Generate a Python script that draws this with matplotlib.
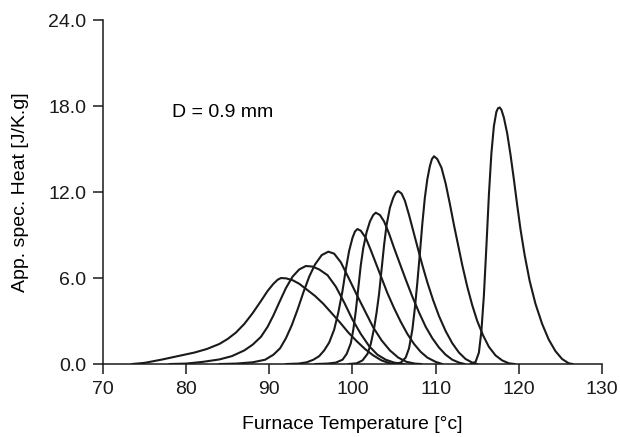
import matplotlib.pyplot as plt

# apparent specific heat curves, one per heating run
t1 = [73.5, 75.0, 77.0, 79.0, 81.0, 82.5, 84.0, 85.0, 86.0, 87.0, 88.0, 89.0, 89.8, 90.5, 91.0, 91.4,
      92.0, 92.8, 93.6, 94.5, 95.5, 96.5, 97.5, 98.5, 99.5, 100.5, 101.5, 102.5, 103.5, 104.5, 105.5]
c1 = [0.0, 0.08, 0.3, 0.55, 0.8, 1.05, 1.4, 1.75, 2.2, 2.8, 3.55, 4.4, 5.1, 5.6, 5.88, 6.0,
      5.98, 5.85, 5.6, 5.2, 4.75, 4.2, 3.55, 2.9, 2.2, 1.6, 1.05, 0.6, 0.25, 0.05, 0.0]

t2 = [78.0, 80.0, 82.0, 84.0, 85.5, 87.0, 88.0, 89.0, 89.8, 90.5, 91.2, 92.0, 92.8, 93.6, 94.4,
      95.2, 96.0, 97.0, 98.0, 99.0, 100.0, 101.0, 102.0, 103.0, 104.0, 105.0, 106.2]
c2 = [0.0, 0.03, 0.15, 0.32, 0.55, 0.95, 1.35, 1.9, 2.6, 3.4, 4.3, 5.3, 6.1, 6.6, 6.84,
      6.8, 6.6, 6.2, 5.4, 4.3, 3.1, 2.1, 1.25, 0.65, 0.3, 0.1, 0.0]

t3 = [84.0, 86.0, 88.0, 89.5, 90.5, 91.3, 92.0, 92.7, 93.4, 94.1, 94.8, 95.5, 96.3, 97.1,
      97.8, 98.6, 99.5, 100.5, 101.5, 102.5, 103.5, 104.5, 105.5, 106.5, 107.5, 108.3]
c3 = [0.0, 0.03, 0.12, 0.3, 0.65, 1.1, 1.8, 2.7, 3.8, 5.0, 6.1, 6.95, 7.6, 7.84,
      7.7, 7.1, 6.05, 4.85, 3.7, 2.55, 1.65, 0.95, 0.45, 0.15, 0.03, 0.0]

t4 = [92.0, 93.5, 94.5, 95.3, 96.0, 96.6, 97.2, 97.8, 98.3, 98.8, 99.2, 99.6, 100.0, 100.3, 100.6,
      101.0, 101.6, 102.2, 102.8, 103.5, 104.2, 105.0, 105.8, 106.6, 107.4, 108.2, 109.0, 110.0, 110.8]
c4 = [0.0, 0.03, 0.12, 0.3, 0.55, 0.95, 1.5, 2.4, 3.6, 5.1, 6.6, 7.9, 8.8, 9.25, 9.42,
      9.3, 8.8, 7.95, 7.05, 6.0, 4.95, 3.9, 2.95, 2.1, 1.4, 0.85, 0.45, 0.15, 0.0]

t5 = [95.5, 97.0, 98.0, 98.8, 99.3, 99.8, 100.1, 100.4, 100.7, 101.0, 101.3, 101.7, 102.1, 102.5, 102.8,
      103.3, 103.8, 104.4, 105.0, 105.7, 106.4, 107.2, 108.0, 108.8, 109.6, 110.4, 111.2, 112.0, 112.8, 113.5]
c5 = [0.0, 0.03, 0.1, 0.3, 0.7, 1.45, 2.4, 3.7, 5.3, 6.9, 8.1, 9.2, 9.95, 10.4, 10.56,
      10.4, 9.95, 9.1, 8.1, 7.0, 5.9, 4.7, 3.6, 2.6, 1.8, 1.15, 0.65, 0.3, 0.1, 0.0]

t6 = [99.5, 100.5, 101.2, 101.8, 102.2, 102.6, 102.9, 103.2, 103.5, 103.8, 104.1, 104.5, 104.9, 105.2, 105.5,
      105.9, 106.3, 106.8, 107.3, 107.8, 108.4, 109.0, 109.7, 110.4, 111.2, 112.0, 112.8, 113.6, 114.4, 115.0]
c6 = [0.0, 0.05, 0.25, 0.7, 1.4, 2.5, 3.6, 4.9, 6.6, 8.3, 9.7, 10.9, 11.6, 11.95, 12.07,
      11.9, 11.4, 10.4, 9.3, 8.2, 6.9, 5.7, 4.45, 3.35, 2.3, 1.45, 0.8, 0.35, 0.1, 0.0]

t7 = [105.0, 105.8, 106.4, 106.8, 107.2, 107.5, 107.8, 108.1, 108.4, 108.7, 109.0, 109.3, 109.55, 109.8,
      110.2, 110.7, 111.2, 111.7, 112.2, 112.7, 113.2, 113.8, 114.4, 115.0, 115.7, 116.4, 117.2, 118.0, 118.8, 119.5]
c7 = [0.0, 0.1, 0.45, 1.1, 2.4, 3.9, 5.7, 7.7, 9.8, 11.6, 12.9, 13.8, 14.3, 14.5,
      14.3, 13.7, 12.6, 11.2, 9.7, 8.3, 6.9, 5.4, 4.1, 3.0, 2.0, 1.2, 0.6, 0.25, 0.05, 0.0]

t8 = [114.2, 114.8, 115.2, 115.5, 115.8, 116.1, 116.4, 116.7, 117.0, 117.3, 117.5, 117.7,
      117.9, 118.2, 118.6, 119.0, 119.4, 119.8, 120.2, 120.7, 121.3, 122.0, 122.8, 123.6, 124.4, 125.2, 126.0, 126.5]
c8 = [0.0, 0.15, 0.8, 2.3, 4.8, 8.2, 11.8, 14.7, 16.6, 17.6, 17.85, 17.9,
      17.75, 17.2, 16.1, 14.6, 12.9, 11.1, 9.4, 7.6, 5.8, 4.2, 2.8, 1.7, 0.9, 0.35, 0.05, 0.0]

temps = [t1, t2, t3, t4, t5, t6, t7, t8]
heats = [c1, c2, c3, c4, c5, c6, c7, c8]

x_ticks = [70, 80, 90, 100, 110, 120, 130]
y_ticks = [0.0, 6.0, 12.0, 18.0, 24.0]

plt.rcParams['font.family'] = ['Liberation Sans', 'DejaVu Sans']

fig = plt.figure(figsize=(6.2, 4.37), dpi=100)
ax = fig.add_axes([0.166, 0.167, 0.805, 0.787])

for t, c in zip(temps, heats):
    ax.plot(t, c, color='#1a1a1a', linewidth=1.5, solid_joinstyle='round', solid_capstyle='round')

ax.set_xlim(70, 130)
ax.set_ylim(0, 24)
ax.set_xticks(x_ticks)
ax.set_yticks(y_ticks)
ax.set_yticklabels([f'{v:.1f}' for v in y_ticks])
ax.tick_params(labelsize=14, length=7, width=1.1, pad=5, colors='#1a1a1a')

for side in ['top', 'right']:
    ax.spines[side].set_visible(False)
for side in ['left', 'bottom']:
    ax.spines[side].set_linewidth(1.1)
    ax.spines[side].set_color('#1a1a1a')

ax.text(78.3, 17.55, 'D = 0.9 mm', fontsize=14, va='center', ha='left')
ax.set_xlabel('Furnace Temperature [°c]', fontsize=14, labelpad=13)
ax.set_ylabel('App. spec. Heat [J/K.g]', fontsize=14, labelpad=14)

fig.savefig('out.png', dpi=100)
